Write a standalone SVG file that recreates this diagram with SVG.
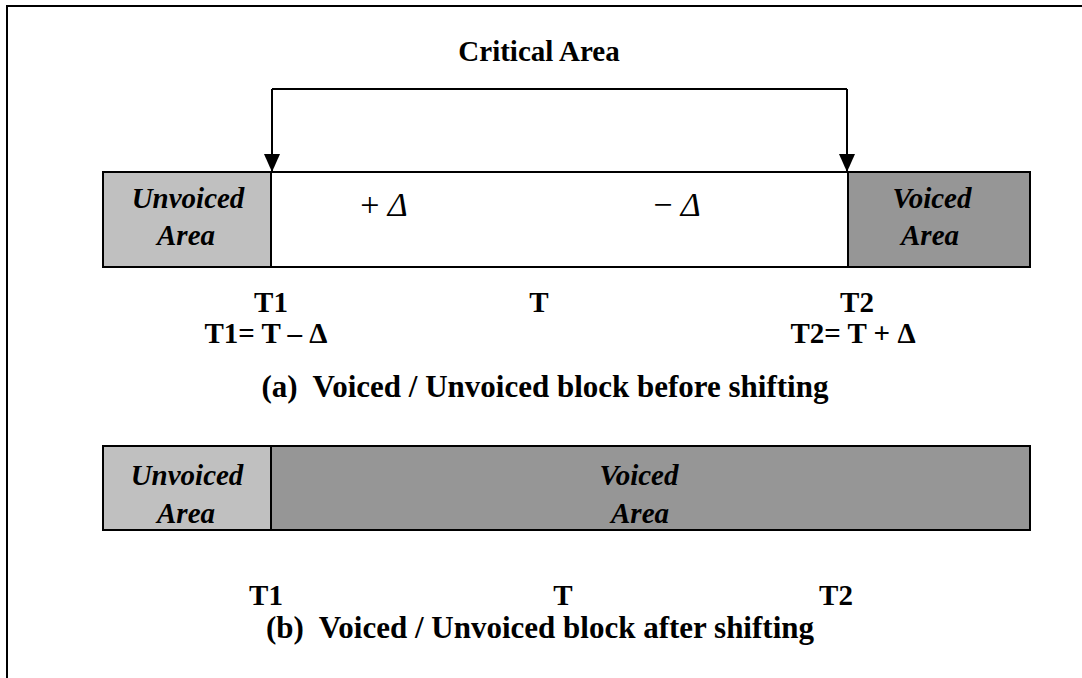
<svg xmlns="http://www.w3.org/2000/svg" width="1082" height="678" viewBox="0 0 1082 678">
<style>
.t{font-family:"Liberation Serif","Times New Roman",serif;font-weight:bold;fill:#000;text-anchor:middle}
.it{font-style:italic}
.box{stroke:#000;stroke-width:2}
.ln{stroke:#000;stroke-width:2;fill:none}
</style>
<defs>
<marker id="ah" markerWidth="18" markerHeight="16" refX="18" refY="8" orient="auto" markerUnits="userSpaceOnUse" viewBox="0 0 18 16">
<path d="M0,0 L18,8 L0,16 Z" fill="#000"/>
</marker>
</defs>
<rect width="1082" height="678" fill="#fff"/>
<path d="M7,678 L7,6 L1082,6" fill="none" stroke="#000" stroke-width="2"/>
<text class="t" x="539" y="61" font-size="29">Critical Area</text>
<g id="blockA">
<rect id="a-unvoiced" class="box" x="103" y="172" width="168" height="95" fill="#c0c0c0"/>
<rect id="a-critical" class="box" x="271" y="172" width="577" height="95" fill="#fff"/>
<rect id="a-voiced" class="box" x="848" y="172" width="182" height="95" fill="#969696"/>
</g>
<g id="a-labels">
<text class="t it" x="188" y="208" font-size="29">Unvoiced</text>
<text class="t it" x="186" y="245" font-size="29">Area</text>
<text class="t it" x="932" y="208" font-size="29">Voiced</text>
<text class="t it" x="930" y="245" font-size="29">Area</text>
<text x="384" y="216" font-size="34" font-family="Liberation Serif,serif" text-anchor="middle">+ <tspan font-style="italic">Δ</tspan></text>
<text x="677" y="216" font-size="34" font-family="Liberation Serif,serif" text-anchor="middle">− <tspan font-style="italic">Δ</tspan></text>
<text class="t" x="271" y="312" font-size="29">T1</text>
<text class="t" x="539" y="312" font-size="29">T</text>
<text class="t" x="857" y="312" font-size="29">T2</text>
<text class="t" x="266" y="343" font-size="29">T1= T – Δ</text>
<text class="t" x="853" y="343" font-size="29">T2= T + Δ</text>
<text class="t" x="545" y="397" font-size="31" xml:space="preserve">(a)  Voiced / Unvoiced block before shifting</text>
</g>
<g id="connectors">
<path class="ln" d="M272,89 L847,89" />
<path class="ln" d="M272,89 L272,172" marker-end="url(#ah)"/>
<path class="ln" d="M847,89 L847,172" marker-end="url(#ah)"/>
</g>
<g id="blockB">
<rect id="b-unvoiced" class="box" x="103" y="446" width="168" height="84" fill="#c0c0c0"/>
<rect id="b-voiced" class="box" x="271" y="446" width="759" height="84" fill="#969696"/>
</g>
<g id="b-labels">
<text class="t it" x="187" y="485" font-size="29">Unvoiced</text>
<text class="t it" x="186" y="523" font-size="29">Area</text>
<text class="t it" x="639" y="485" font-size="29">Voiced</text>
<text class="t it" x="640" y="523" font-size="29">Area</text>
<text class="t" x="266" y="605" font-size="29">T1</text>
<text class="t" x="563" y="605" font-size="29">T</text>
<text class="t" x="836" y="605" font-size="29">T2</text>
<text class="t" x="540" y="638" font-size="31" xml:space="preserve">(b)  Voiced / Unvoiced block after shifting</text>
</g>
</svg>
